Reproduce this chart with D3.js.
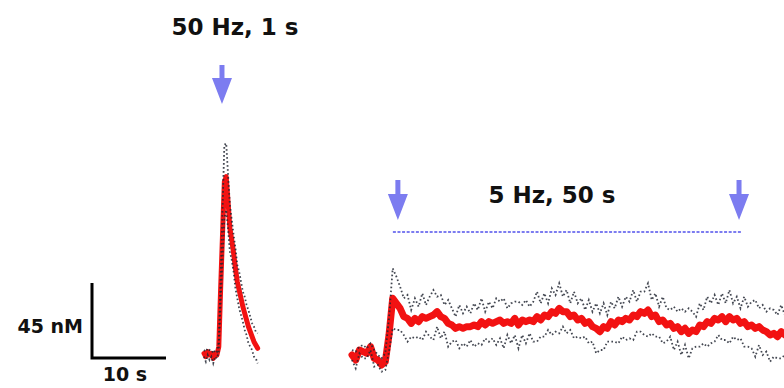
<!DOCTYPE html>
<html><head><meta charset="utf-8">
<script src="https://cdn.jsdelivr.net/npm/d3@7"></script>
<style>body{margin:0;background:#fff}svg{display:block}text{font-family:"DejaVu Sans",sans-serif;font-weight:bold;fill:#111}</style>
</head><body><div id="chart"></div>
<script>
// ---- data ----
const dt1 = 0.25; // s, sampling of trace 1 (50 Hz, 1 s)
const mean1 = [1,-1,2,0,1,-2,1,0,5,40,72,104,107,92,76,69,61,52,44,39,34,29,25,21,17,14,11,8,6,4];
const sem1  = [2,3,2,3,2,3,2,2,3,8,15,22,20,16,14,12,11,12,10,11,10,9,10,9,10,9,8,9,8,9];
const stim1 = [2.43];
const label1 = "50 Hz, 1 s";

const dt2 = 0.5; // s, sampling of trace 2 (5 Hz, 50 s)
const mean2 = [0,-3,3,2,1,5,-2,-3,-6,-4,12,34,31,28,23,22,19,22,20,23,
  22,23,24,26,23,22,19,18,16,17,16,17,17,18,17,20,18,20,19,20,
  21,19,20,19,22,18,21,20,21,20,23,21,24,23,26,25,28,26,26,23,
  24,21,22,19,20,17,16,14,17,16,20,18,21,20,22,21,24,23,26,25,
  27,23,24,20,21,18,19,16,17,14,16,13,15,14,18,17,20,19,22,21,
  23,20,23,21,22,19,20,17,18,16,17,15,14,12,13,11,14,12];
const sem2 = [3,5,2,4,3,2,5,3,4,5,10,18,16,13,11,14,8,12,9,14,
  8,12,15,9,13,8,14,10,7,13,9,12,8,13,10,14,8,12,9,14,
  11,15,8,12,10,14,9,13,8,12,15,10,13,8,14,11,15,9,13,8,
  14,10,12,8,13,9,15,11,14,8,12,10,14,9,13,11,15,9,12,13,
  16,10,13,9,14,10,8,13,9,14,10,15,11,9,13,10,15,12,14,9,
  14,11,16,10,13,9,15,12,14,17,11,15,12,16,14,13,16,12];
const stim2 = [6.2, 52.3];
const label2 = "5 Hz, 50 s";

const scaleBarTime = 10, scaleBarConc = 45;
const scaleBarLabels = ["10 s", "45 nM"];

// ---- drawing ----
const W = 784, H = 388;
const svg = d3.select("#chart").append("svg").attr("width", W).attr("height", H);

const y = d3.scaleLinear().domain([0, 45]).range([355, 280]);
const x1 = d3.scaleLinear().domain([0, 10]).range([204, 278]);
const x2 = d3.scaleLinear().domain([0, 10]).range([352, 426]);

const arrowColor = "#7c7cf0";

function drawTrace(x, dt, mean, sem, w) {
  const n = Math.min(mean.length, sem.length);
  const pts = d3.range(n).map(i => ({t: i * dt, m: mean[i], s: sem[i]}));
  const g = svg.append("g");
  const lineM = d3.line().x(d => x(d.t)).y(d => y(d.m));
  const lineU = d3.line().x(d => x(d.t)).y(d => y(d.m + d.s));
  const lineL = d3.line().x(d => x(d.t)).y(d => y(d.m - d.s));
  g.append("path").datum(pts).attr("d", lineM)
    .attr("fill", "none").attr("stroke", "#f21212").attr("stroke-width", w)
    .attr("stroke-linejoin", "round").attr("stroke-linecap", "round");
  [lineU, lineL].forEach(l => {
    g.append("path").datum(pts).attr("d", l)
      .attr("fill", "none").attr("stroke", "#222733").attr("stroke-width", 1.8)
      .attr("stroke-dasharray", "1.6,2.4").attr("opacity", 0.85);
  });
}

drawTrace(x1, dt1, mean1, sem1, 5);
drawTrace(x2, dt2, mean2, sem2, 7);

function arrow(cx, top, shaftLen, headLen, headW, shaftW) {
  const p = [
    [cx - shaftW/2, top], [cx + shaftW/2, top], [cx + shaftW/2, top + shaftLen],
    [cx + headW/2, top + shaftLen], [cx, top + shaftLen + headLen],
    [cx - headW/2, top + shaftLen], [cx - shaftW/2, top + shaftLen]
  ];
  svg.append("polygon").attr("points", p.map(d => d.join(",")).join(" "))
    .attr("fill", arrowColor);
}

stim1.forEach(t => arrow(x1(t), 65, 13, 26, 20, 5));
stim2.forEach(t => arrow(x2(t), 180, 14, 26, 20, 5));

svg.append("line")
  .attr("x1", x2(stim2[0]) - 5).attr("x2", x2(stim2[1]) + 3)
  .attr("y1", 232).attr("y2", 232)
  .attr("stroke", arrowColor).attr("stroke-width", 2)
  .attr("stroke-dasharray", "3,1.6");

svg.append("text").attr("x", 235).attr("y", 35).attr("text-anchor", "middle")
  .attr("font-size", 23).text(label1);
svg.append("text").attr("x", 552).attr("y", 203).attr("text-anchor", "middle")
  .attr("font-size", 23).text(label2);

// scale bar
const sbX = 92, sbY = 358;
const hLen = x1(scaleBarTime) - x1(0);
const vLen = y(0) - y(scaleBarConc);
svg.append("path")
  .attr("d", `M${sbX},${sbY - vLen}V${sbY}H${sbX + hLen}`)
  .attr("fill", "none").attr("stroke", "#000").attr("stroke-width", 3);
svg.append("text").attr("x", sbX + hLen/2 - 4).attr("y", 381).attr("text-anchor", "middle")
  .attr("font-size", 19).text(scaleBarLabels[0]);
svg.append("text").attr("x", 83).attr("y", 333).attr("text-anchor", "end")
  .attr("font-size", 19).text(scaleBarLabels[1]);
</script>
</body></html>
